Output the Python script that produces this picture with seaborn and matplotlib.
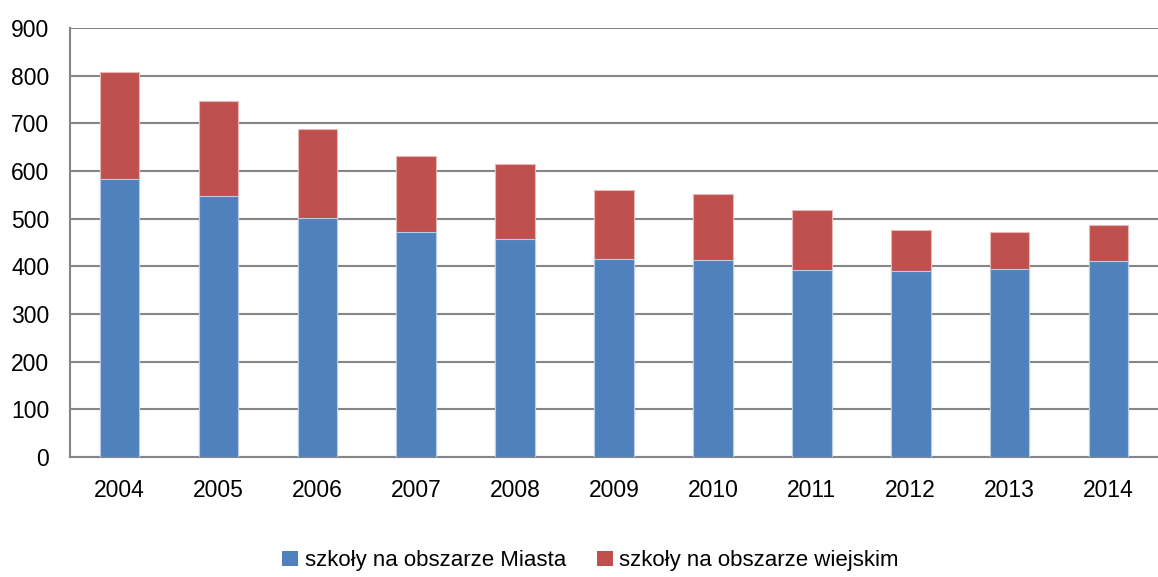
import numpy as np
import pandas as pd
import matplotlib
matplotlib.use('Agg')
import matplotlib.pyplot as plt
import seaborn as sns
from matplotlib.patches import Patch

years = ['2004', '2005', '2006', '2007', '2008', '2009', '2010', '2011', '2012', '2013', '2014']
miasto = [583, 548, 501, 472, 457, 415, 414, 392, 390, 394, 412]
wies = [224, 199, 187, 159, 157, 145, 137, 126, 86, 78, 75]
labels = ['szkoły na obszarze Miasta', 'szkoły na obszarze wiejskim']

blue = '#4F81BD'
red = '#C0504D'
grey = '#868686'

sns.set_style('white')
plt.rcParams['font.family'] = ['Liberation Sans Narrow', 'Liberation Sans', 'DejaVu Sans']
plt.rcParams['text.color'] = 'black'

df = pd.DataFrame({'rok': years, 'miasto': miasto, 'wies': wies})
df['razem'] = df['miasto'] + df['wies']

fig = plt.figure(figsize=(11.58, 5.77), dpi=100)
ax = fig.add_axes([0.0605, 0.208, 0.9395, 0.7435])

sns.barplot(data=df, x='rok', y='razem', color=red, width=0.4, saturation=1,
            edgecolor='#E6B9B8', linewidth=0.8, ax=ax, zorder=3)
sns.barplot(data=df, x='rok', y='miasto', color=blue, width=0.4, saturation=1,
            edgecolor='#B9CDE5', linewidth=0.8, ax=ax, zorder=4)

ax.set_ylim(0, 900)
ax.set_xlim(-0.5, len(years) - 0.5)
ax.set_yticks(range(0, 901, 100))
ax.yaxis.grid(True, color=grey, linewidth=1.5, zorder=0)
ax.set_axisbelow(True)
ax.set_xlabel('')
ax.set_ylabel('')

for s in ['top', 'right']:
    ax.spines[s].set_visible(False)
for s in ['left', 'bottom']:
    ax.spines[s].set_color(grey)
    ax.spines[s].set_linewidth(1.5)

ax.set_xticks(np.arange(-0.5, len(years), 1.0), minor=True)
ax.tick_params(axis='x', which='major', length=0, pad=16, labelsize=16.5, labelcolor='black')
ax.tick_params(axis='x', which='minor', length=6, width=1.5, color=grey, direction='out')
ax.tick_params(axis='y', length=6, width=1.5, color=grey, direction='out', pad=9,
               labelsize=16.5, labelcolor='black')

handles = [Patch(facecolor=blue, edgecolor='none'), Patch(facecolor=red, edgecolor='none')]
fig.legend(handles, labels, loc='center', bbox_to_anchor=(0.51, 0.028), ncol=2, frameon=False,
           fontsize=16, handlelength=0.7, handleheight=0.7, handletextpad=0.3, columnspacing=1.4)

plt.savefig('out.png', dpi=100)
plt.close()
